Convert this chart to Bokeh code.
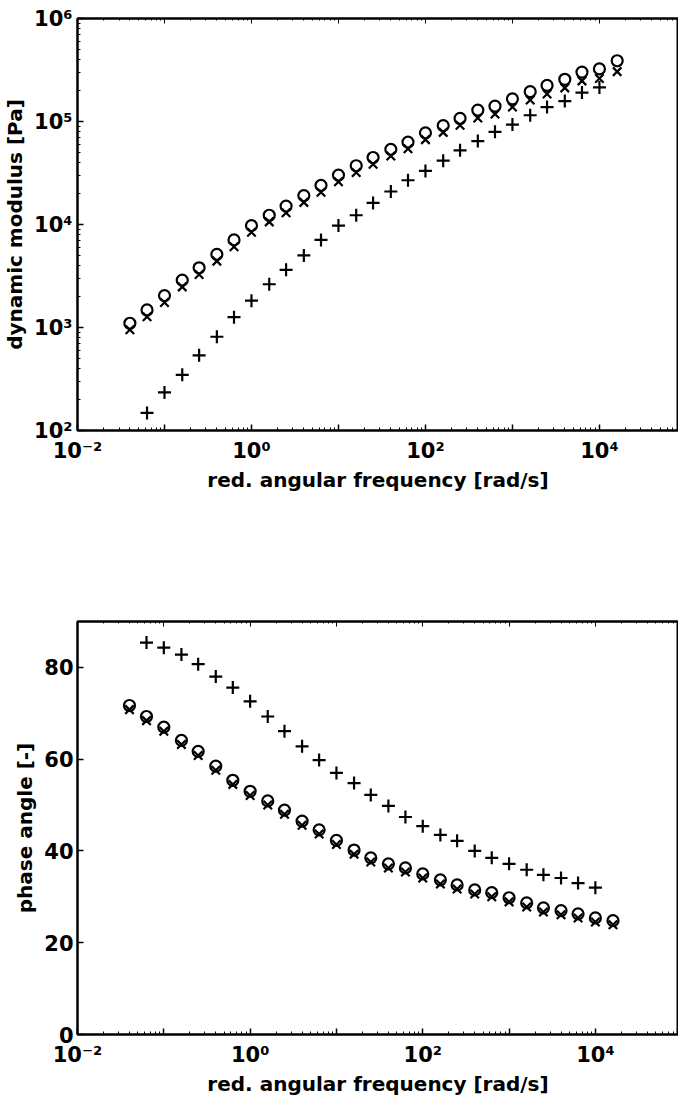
from bokeh.plotting import figure
from bokeh.layouts import column
from bokeh.models import Range1d, FixedTicker, CustomJSTickFormatter, LogAxis
from bokeh.embed import file_html
from bokeh.resources import INLINE

# ---------------- data ----------------
freq_co = [0.04, 0.063, 0.1, 0.16, 0.25, 0.4, 0.63, 1.0, 1.6, 2.5, 4.0, 6.3, 10, 16, 25,
           40, 63, 100, 160, 250, 400, 630, 1000, 1600, 2500, 4000, 6300, 10000, 16000]
freq_plus = [0.063, 0.1, 0.16, 0.25, 0.4, 0.63, 1.0, 1.6, 2.5, 4.0, 6.3, 10, 16, 25,
             40, 63, 100, 160, 250, 400, 630, 1000, 1600, 2500, 4000, 6300, 10000]

mod_circle = [1100, 1480, 2040, 2880, 3800, 5130, 7080, 9770, 12300, 15100, 19100, 24000,
              30200, 37200, 44700, 53700, 63100, 77600, 91200, 107000, 129000, 141000,
              166000, 195000, 224000, 257000, 302000, 324000, 389000]
mod_cross = [950, 1270, 1750, 2480, 3270, 4410, 6090, 8400, 10600, 13000, 16400, 20600,
             26000, 32000, 38400, 46200, 54300, 66700, 78400, 92000, 108000, 118000,
             138000, 162000, 185000, 212000, 248000, 262000, 305000]
mod_plus = [148, 234, 347, 537, 813, 1260, 1820, 2630, 3630, 5010, 7080, 9770, 12300, 16200,
            20900, 26900, 33100, 41700, 52500, 64600, 79400, 93300, 115000, 138000, 158000,
            191000, 214000]

phase_circle = [71.7, 69.3, 67.0, 64.1, 61.7, 58.5, 55.4, 53.0, 50.9, 48.9, 46.5, 44.6, 42.3,
                40.2, 38.5, 37.2, 36.3, 35.0, 33.7, 32.6, 31.5, 30.9, 29.8, 28.7, 27.6, 27.0,
                26.3, 25.4, 24.8]
phase_cross = [70.8, 68.4, 66.1, 63.2, 60.8, 57.6, 54.5, 52.1, 50.0, 48.0, 45.6, 43.7, 41.4,
               39.3, 37.6, 36.3, 35.4, 34.1, 32.8, 31.7, 30.6, 30.0, 28.9, 27.8, 26.7, 26.1,
               25.4, 24.5, 23.9]
phase_plus = [85.4, 84.3, 82.8, 80.7, 78.0, 75.6, 72.6, 69.3, 66.1, 62.8, 59.8, 57.0, 54.8,
              52.2, 49.8, 47.4, 45.4, 43.5, 42.2, 40.0, 38.5, 37.2, 35.9, 34.8, 34.1, 33.0, 32.0]

x_decades = [1e-2, 1e-1, 1e0, 1e1, 1e2, 1e3, 1e4, 1e5]
y_decades = [1e2, 1e3, 1e4, 1e5, 1e6]
phase_ticks = [0, 20, 40, 60, 80]

xlabel = "red. angular frequency [rad/s]"
ylabel_top = "dynamic modulus [Pa]"
ylabel_bot = "phase angle [-]"

FONT = "DejaVu Sans"
TICK_SIZE = "21px"
LABEL_SIZE = "20px"


def minor_list(decs):
    out = []
    for d in decs[:-1]:
        for k in range(2, 10):
            out.append(d * k)
    return out


SUP_JS = """
const sup = {'-':'\u207b','0':'\u2070','1':'\u00b9','2':'\u00b2','3':'\u00b3','4':'\u2074',
             '5':'\u2075','6':'\u2076','7':'\u2077','8':'\u2078','9':'\u2079'};
const e = Math.round(Math.log10(tick));
if (EVEN_ONLY && (Math.abs(e) % 2 == 1)) { return ''; }
return '10' + String(e).split('').map(c => sup[c]).join('');
"""


def log_fmt(even_only):
    return CustomJSTickFormatter(code=SUP_JS.replace("EVEN_ONLY", "true" if even_only else "false"))


def style_axis(ax):
    ax.axis_line_width = 2
    ax.axis_line_color = "black"
    ax.major_tick_in = 6
    ax.major_tick_out = 0
    ax.minor_tick_in = 3
    ax.minor_tick_out = 0
    ax.major_tick_line_width = 1.5
    ax.minor_tick_line_width = 1
    ax.major_label_text_font = FONT
    ax.major_label_text_font_size = TICK_SIZE
    ax.major_label_text_font_style = "bold"
    ax.major_label_text_color = "black"
    ax.axis_label_text_font = FONT
    ax.axis_label_text_font_size = LABEL_SIZE
    ax.axis_label_text_font_style = "bold"
    ax.axis_label_text_color = "black"


def add_top_axis(p):
    top = LogAxis(ticker=FixedTicker(ticks=x_decades, minor_ticks=minor_list(x_decades)),
                  formatter=CustomJSTickFormatter(code="return '';"))
    top.axis_line_width = 2
    top.major_tick_in = 5
    top.major_tick_out = 0
    top.minor_tick_in = 2
    top.minor_tick_out = 0
    top.major_label_standoff = 0
    top.major_label_text_font_size = "0px"
    p.add_layout(top, "above")


def draw_markers(p, xc, yc, yx, xp, yp):
    p.scatter(xc, yx, marker="x", size=12, line_color="black", line_width=2.2)
    p.scatter(xc, yc, marker="circle", size=11, line_color="black", line_width=2.2,
              fill_color=None)
    p.scatter(xp, yp, marker="cross", size=13, line_color="black", line_width=2.2)


# ---------------- top panel ----------------
p1 = figure(width=678, height=512, x_axis_type="log", y_axis_type="log",
            x_range=Range1d(1e-2, 10 ** 4.909), y_range=Range1d(1e2, 1e6),
            output_backend="svg", toolbar_location=None,
            min_border_left=70, min_border_right=0, min_border_top=18, min_border_bottom=82)
p1.xaxis.ticker = FixedTicker(ticks=x_decades, minor_ticks=minor_list(x_decades))
p1.xaxis.formatter = log_fmt(True)
p1.yaxis.ticker = FixedTicker(ticks=y_decades, minor_ticks=minor_list(y_decades))
p1.yaxis.formatter = log_fmt(False)
p1.xaxis.axis_label = xlabel
p1.yaxis.axis_label = ylabel_top
for ax in p1.xaxis + p1.yaxis:
    style_axis(ax)
p1.xaxis.major_label_standoff = 8
p1.xaxis.axis_label_standoff = 2
p1.yaxis.major_label_standoff = 5
p1.yaxis.axis_label_standoff = 4
p1.xgrid.visible = False
p1.ygrid.visible = False
p1.outline_line_color = "black"
p1.outline_line_width = 2
add_top_axis(p1)
draw_markers(p1, freq_co, mod_circle, mod_cross, freq_plus, mod_plus)

# ---------------- bottom panel ----------------
p2 = figure(width=678, height=591, x_axis_type="log",
            x_range=Range1d(1e-2, 10 ** 4.963), y_range=Range1d(0, 90),
            output_backend="svg", toolbar_location=None,
            min_border_left=67, min_border_right=0, min_border_top=109, min_border_bottom=69)
p2.xaxis.ticker = FixedTicker(ticks=x_decades, minor_ticks=minor_list(x_decades))
p2.xaxis.formatter = log_fmt(True)
p2.yaxis.ticker = FixedTicker(ticks=phase_ticks, minor_ticks=[])
p2.xaxis.axis_label = xlabel
p2.yaxis.axis_label = ylabel_bot
for ax in p2.xaxis + p2.yaxis:
    style_axis(ax)
p2.xaxis.major_label_standoff = 8
p2.xaxis.axis_label_standoff = 2
p2.yaxis.major_label_standoff = 4
p2.yaxis.axis_label_standoff = 4
p2.xgrid.visible = False
p2.ygrid.visible = False
p2.outline_line_color = "black"
p2.outline_line_width = 2
add_top_axis(p2)
draw_markers(p2, freq_co, phase_circle, phase_cross, freq_plus, phase_plus)

layout = column(p1, p2, spacing=0)
open("out.html", "w").write(file_html(layout, INLINE))
